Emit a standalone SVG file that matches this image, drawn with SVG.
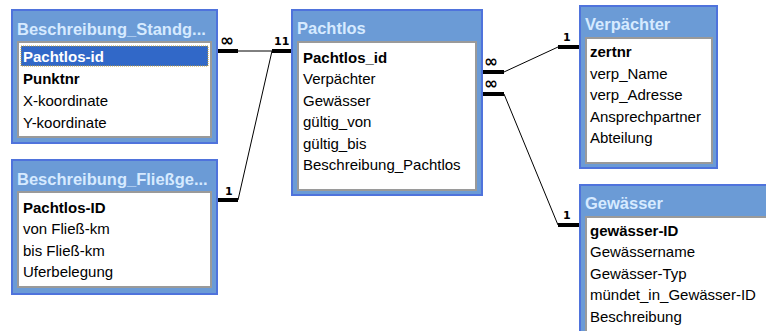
<svg xmlns="http://www.w3.org/2000/svg" width="766" height="331" viewBox="0 0 766 331">
<style>
.frame{fill:#6b9bd6;stroke:#4f73dc;stroke-width:2}
.inner{fill:#ffffff;stroke:#9a9a9a;stroke-width:2}
.title{font-family:"Liberation Sans",Arial,sans-serif;font-size:16.5px;font-weight:bold;fill:#d6eaff}
.f{font-family:"Liberation Sans",Arial,sans-serif;font-size:15px;fill:#000}
.k{font-family:"Liberation Sans",Arial,sans-serif;font-size:15px;font-weight:bold;fill:#000}
.thick{stroke:#000;stroke-width:4;fill:none}
.thin{stroke:#000;stroke-width:1;fill:none}
.lbl{font-family:"DejaVu Sans",sans-serif;font-size:11px;font-weight:bold;fill:#000}
.inf{font-family:"DejaVu Sans",sans-serif;font-size:17px;font-weight:bold;fill:#000}
</style>
<rect width="766" height="331" fill="#ffffff"/>
<g id="connectors">
<line class="thick" x1="217" y1="51" x2="238" y2="51"/>
<line class="thin" x1="238" y1="51" x2="272" y2="51"/>
<line class="thick" x1="272" y1="51" x2="293" y2="51"/>
<line class="thin" x1="272" y1="51" x2="238" y2="200"/>
<line class="thick" x1="217" y1="200" x2="238" y2="200"/>
<line class="thick" x1="482" y1="72" x2="504" y2="72"/>
<line class="thin" x1="504" y1="72" x2="558" y2="47"/>
<line class="thick" x1="558" y1="47" x2="580" y2="47"/>
<line class="thick" x1="482" y1="94" x2="504" y2="94"/>
<line class="thin" x1="504" y1="94" x2="558" y2="225"/>
<line class="thick" x1="558" y1="225" x2="580" y2="225"/>
<text class="inf" x="220" y="46">∞</text>
<text class="lbl" x="274" y="45">11</text>
<text class="lbl" x="225" y="195">1</text>
<text class="inf" x="484" y="67">∞</text>
<text class="inf" x="484" y="89">∞</text>
<text class="lbl" x="563" y="41">1</text>
<text class="lbl" x="563" y="219">1</text>
</g>
<g id="standg">
<rect class="frame" x="12" y="10" width="205" height="133"/>
<rect class="inner" x="18" y="42" width="193" height="95"/>
<text class="title" x="17" y="35">Beschreibung_Standg...</text>
<rect x="21" y="46" width="187" height="20" fill="#3168c8" stroke="#c8a030" stroke-width="1" stroke-dasharray="1 1"/>
<text class="k" x="23" y="62" style="fill:#ffffff">Pachtlos-id</text>
<text class="k" x="23" y="84">Punktnr</text>
<text class="f" x="23" y="106">X-koordinate</text>
<text class="f" x="23" y="128">Y-koordinate</text>
</g>
<g id="fliess">
<rect class="frame" x="12" y="160" width="205" height="134"/>
<rect class="inner" x="18" y="192" width="193" height="95"/>
<text class="title" x="17" y="185">Beschreibung_Fließge...</text>
<text class="k" x="23" y="213">Pachtlos-ID</text>
<text class="f" x="23" y="234">von Fließ-km</text>
<text class="f" x="23" y="256">bis Fließ-km</text>
<text class="f" x="23" y="277">Uferbelegung</text>
</g>
<g id="pachtlos">
<rect class="frame" x="292" y="10" width="190" height="185"/>
<rect class="inner" x="298" y="42" width="178" height="148"/>
<text class="title" x="297" y="34">Pachtlos</text>
<text class="k" x="303" y="63">Pachtlos_id</text>
<text class="f" x="303" y="84">Verpächter</text>
<text class="f" x="303" y="106">Gewässer</text>
<text class="f" x="303" y="127">gültig_von</text>
<text class="f" x="303" y="149">gültig_bis</text>
<text class="f" x="303" y="170">Beschreibung_Pachtlos</text>
</g>
<g id="verpaechter">
<rect class="frame" x="580" y="6" width="137" height="162"/>
<rect class="inner" x="586" y="38" width="126" height="125"/>
<text class="title" x="585" y="30">Verpächter</text>
<text class="k" x="590" y="57">zertnr</text>
<text class="f" x="590" y="79">verp_Name</text>
<text class="f" x="590" y="100">verp_Adresse</text>
<text class="f" x="590" y="122">Ansprechpartner</text>
<text class="f" x="590" y="143">Abteilung</text>
</g>
<g id="gewaesser">
<rect class="frame" x="580" y="185" width="200" height="160"/>
<rect class="inner" x="586" y="217" width="190" height="120"/>
<text class="title" x="585" y="209">Gewässer</text>
<text class="k" x="590" y="236">gewässer-ID</text>
<text class="f" x="590" y="257">Gewässername</text>
<text class="f" x="590" y="279">Gewässer-Typ</text>
<text class="f" x="590" y="300">mündet_in_Gewässer-ID</text>
<text class="f" x="590" y="322">Beschreibung</text>
</g>
</svg>
